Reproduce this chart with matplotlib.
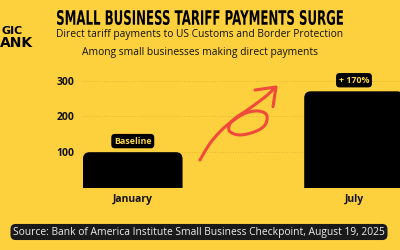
import numpy as np
import matplotlib
matplotlib.use('Agg')
import matplotlib.pyplot as plt
from matplotlib import font_manager
from matplotlib.patches import FancyBboxPatch, PathPatch
from matplotlib.textpath import TextPath
from matplotlib.font_manager import FontProperties
from matplotlib.transforms import Affine2D

# Данные графика
months = ['January', 'July']
payments = [100, 270]
bar_notes = ['Baseline', '+ 170%']
y_ticks = [100, 200, 300]

BG = '#fdd13d'
RED = '#f04a3a'
NOTE = '#f6d34a'

names = {f.name for f in font_manager.fontManager.ttflist}
body_font = 'Open Sans' if 'Open Sans' in names else 'DejaVu Sans'

fig = plt.figure(figsize=(4, 2.5), dpi=100, facecolor=BG)
ax = fig.add_axes([83 / 400, 1 - 188 / 250, 1 - 83 / 400, (188 - 77) / 250])
ax.set_facecolor(BG)

x = np.arange(len(months))
width = 0.45
# бары со скруглёнными верхними углами
for xi, val in zip(x, payments):
    box = FancyBboxPatch((xi - width / 2, -30), width, val + 30,
                         boxstyle='round,pad=0,rounding_size=0.03',
                         mutation_aspect=620, facecolor='black',
                         edgecolor='none', zorder=3, clip_on=True)
    ax.add_patch(box)

for xi, val, note in zip(x, payments, bar_notes):
    ax.annotate(note, (xi, val), xytext=(0, 8), textcoords='offset points',
                ha='center', va='center', fontsize=6.4, fontweight='bold',
                color=NOTE, family=body_font, zorder=5,
                bbox=dict(boxstyle='round,pad=0.3,rounding_size=0.4',
                          fc='black', ec='none'))

ax.set_xlim(-0.225, 1.208)
ax.set_ylim(0, 310)
ax.set_yticks(y_ticks)
ax.set_xticks(x)
ax.set_xticklabels(months)
ax.tick_params(length=0)
ax.tick_params(axis='y', pad=6)
ax.tick_params(axis='x', pad=4)
for lab in ax.get_yticklabels() + ax.get_xticklabels():
    lab.set_fontweight('bold')
    lab.set_fontsize(7.5)
    lab.set_family(body_font)
    lab.set_color('#111111')
ax.grid(axis='y', color='#e6b632', linestyle=':', linewidth=0.7, zorder=0)
for s in ax.spines.values():
    s.set_visible(False)

# заголовок: узкий жирный шрифт, сжатый по ширине
title = 'SMALL BUSINESS TARIFF PAYMENTS SURGE'
tp = TextPath((0, 0), title, size=10, prop=FontProperties(family='DejaVu Sans', weight='bold'))
ext = tp.get_extents()
sx = 286 / ext.width
sy = 15 / ext.height
tr = Affine2D().translate(-ext.x0, -ext.y0).scale(sx, sy).translate(57, 250 - 25)
fig.add_artist(PathPatch(tp, transform=tr, fc='black', ec='none'))

fig.text(200 / 400, 1 - 34 / 250,
         'Direct tariff payments to US Customs and Border Protection',
         ha='center', va='center', fontsize=7.4, family=body_font, color='#111111')
fig.text(200 / 400, 1 - 52 / 250,
         'Among small businesses making direct payments',
         ha='center', va='center', fontsize=7.4, family=body_font, color='#111111')

# логотип (край слева)
fig.text(1 / 400, 1 - 31 / 250, 'GIC', ha='left', va='center',
         fontsize=8, fontweight='heavy', family='DejaVu Sans', color='black')
fig.text(0 / 400, 1 - 43 / 250, 'ANK', ha='left', va='center',
         fontsize=10, fontweight='heavy', family='DejaVu Sans', color='black')

# источник
fig.text(199 / 400, 1 - 232 / 250,
         'Source: Bank of America Institute Small Business Checkpoint, August 19, 2025',
         ha='center', va='center', fontsize=7.35, family=body_font, color='#eeeeee',
         bbox=dict(boxstyle='round,pad=0.25,rounding_size=0.5', fc='#1a1a1a', ec='none'))

# нарисованная от руки стрелка (в пикселях)
pts = np.array([(30, 255), (60, 205), (95, 165), (125, 140), (165, 115),
                (205, 108), (230, 120), (225, 150), (195, 170), (150, 180),
                (120, 170), (118, 150), (135, 130), (165, 110), (200, 85),
                (230, 62), (255, 38)], dtype=float)
pts = np.column_stack([190 + pts[:, 0] / 3, 75 + pts[:, 1] / 3])


def catmull(p, n=12):
    p = np.vstack([p[0], p, p[-1]])
    out = []
    for i in range(1, len(p) - 2):
        p0, p1, p2, p3 = p[i - 1], p[i], p[i + 1], p[i + 2]
        for t in np.linspace(0, 1, n, endpoint=False):
            out.append(0.5 * ((2 * p1) + (-p0 + p2) * t +
                              (2 * p0 - 5 * p1 + 4 * p2 - p3) * t ** 2 +
                              (-p0 + 3 * p1 - 3 * p2 + p3) * t ** 3))
    out.append(p[-2])
    return np.array(out)


curve = catmull(pts)
fig.add_artist(plt.Line2D(curve[:, 0] / 400, 1 - curve[:, 1] / 250,
                          transform=fig.transFigure, color=RED, lw=2.2,
                          solid_capstyle='round', solid_joinstyle='round'))
head = np.array([(195, 45), (258, 36), (249, 95)], dtype=float)
head = np.column_stack([190 + head[:, 0] / 3, 75 + head[:, 1] / 3])
fig.add_artist(plt.Line2D(head[:, 0] / 400, 1 - head[:, 1] / 250,
                          transform=fig.transFigure, color=RED, lw=2.2,
                          solid_capstyle='round', solid_joinstyle='round'))

fig.savefig('out.png', dpi=100, facecolor=BG)
